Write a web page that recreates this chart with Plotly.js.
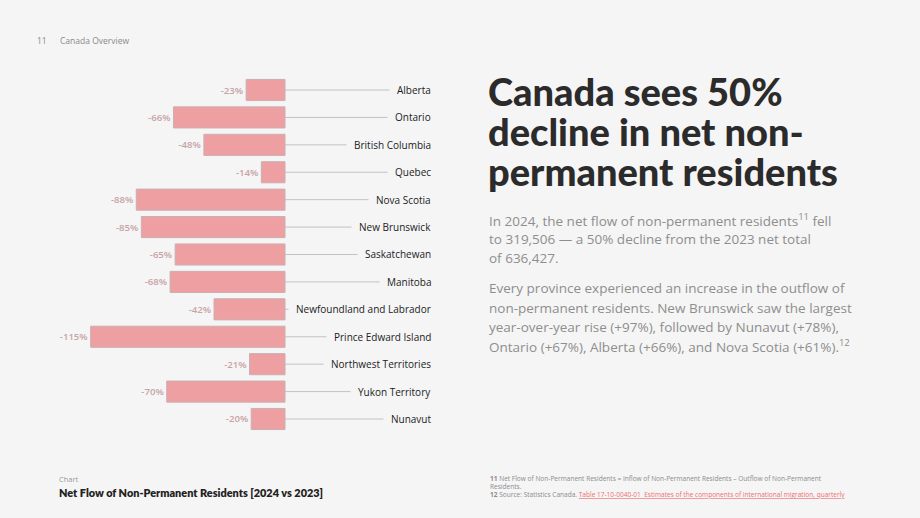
<!DOCTYPE html>
<html>
<head>
<meta charset="utf-8">
<script src="https://cdn.plot.ly/plotly-3.0.1.min.js"></script>
<style>
  html, body { margin: 0; padding: 0; background: #f5f5f5; }
  #chart { width: 920px; height: 518px; }
</style>
</head>
<body>
<div id="chart"></div>
<script>
// Net flow of non-permanent residents, change 2024 vs 2023 (%)
const provinces = [
  'Alberta', 'Ontario', 'British Columbia', 'Quebec', 'Nova Scotia',
  'New Brunswick', 'Saskatchewan', 'Manitoba', 'Newfoundland and Labrador',
  'Prince Edward Island', 'Northwest Territories', 'Yukon Territory', 'Nunavut'
];
const changePct = [-23, -66, -48, -14, -88, -85, -65, -68, -42, -115, -21, -70, -20];
const valueLabels = changePct.map(v => v + '%');

const W = 920, H = 518;
const px = x => x / W;
const py = y => 1 - y / H;

// horizontal scale: zero line at x=285, about 1.69 px per percentage point
const pxPerUnit = 1.69;
const zeroPx = 285, leftPx = 40, rightPx = 432;
const xMin = -(zeroPx - leftPx) / pxPerUnit;
const xMax = (rightPx - zeroPx) / pxPerUnit;

// leader lines from each bar end to its province name
const leadX = [], leadY = [];
provinces.forEach(p => { leadX.push(0, xMax, null); leadY.push(p, p, null); });

const bars = {
  type: 'bar',
  orientation: 'h',
  y: provinces,
  x: changePct,
  text: valueLabels,
  textposition: 'outside',
  cliponaxis: false,
  textfont: { family: 'Open Sans', size: 9.6, color: '#c7a3a7', weight: 600 },
  marker: { color: '#ee9fa2', line: { color: '#c9b0b2', width: 1 } },
  hoverinfo: 'skip'
};
const leaders = {
  type: 'scatter',
  mode: 'lines',
  x: leadX,
  y: leadY,
  line: { color: '#c2c2c2', width: 1 },
  hoverinfo: 'skip'
};

const ann = [];
function txt(text, x, y, size, color, opts) {
  ann.push(Object.assign({
    text: text, xref: 'paper', yref: 'paper', x: px(x), y: py(y),
    xanchor: 'left', yanchor: 'middle', showarrow: false,
    font: { family: 'Open Sans', size: size, color: color }
  }, opts || {}));
}

// province names, right-aligned, masking the leader line tips
provinces.forEach(p => {
  ann.push({
    text: p, xref: 'x', yref: 'y', x: xMax, y: p,
    xanchor: 'right', yanchor: 'middle', showarrow: false,
    xshift: 7, bgcolor: '#f5f5f5', borderpad: 7,
    font: { family: 'Open Sans', size: 10, color: '#222222' }
  });
});

// page header
txt('11', 35, 41, 8.5, '#8a8a8a');
txt('Canada Overview', 58, 41, 8.5, '#8a8a8a');

// headline
const headFont = { family: 'Lato', size: 38, color: '#2b2b2b', weight: 900 };
[['Canada sees 50%', 91], ['decline in net non-', 131], ['permanent residents', 171]].forEach(([t, y]) => {
  txt(t, 486, y, 38, '#2b2b2b', { font: headFont });
});

// body copy
const bodyLines = [
  ['In 2024, the net flow of non-permanent residents<sup>11</sup> fell', 220],
  ['to 319,506 — a 50% decline from the 2023 net total', 239],
  ['of 636,427.', 258],
  ['Every province experienced an increase in the outflow of', 288],
  ['non-permanent residents. New Brunswick saw the largest', 308],
  ['year-over-year rise (+97%), followed by Nunavut (+78%),', 327],
  ['Ontario (+67%), Alberta (+66%), and Nova Scotia (+61%).<sup>12</sup>', 346]
];
bodyLines.forEach(([t, y]) => txt(t, 487, y, 13.5, '#8e8e8e'));

// chart caption
txt('Chart', 57, 479, 7.5, '#9a9a9a');
txt('Net Flow of Non-Permanent Residents [2024 vs 2023]', 57, 492, 10.9, '#222222',
    { font: { family: 'Lato', size: 10.9, color: '#222222', weight: 800 } });

// footnotes
const fnSize = 6.55;
txt('<b>11</b> Net Flow of Non-Permanent Residents = Inflow of Non-Permanent Residents – Outflow of Non-Permanent', 488, 478, fnSize, '#8c8c8c');
txt('Residents.', 488, 486, fnSize, '#8c8c8c');
txt('<b>12</b> Source: Statistics Canada. <span style="color:#ef6f6f"><u>Table 17-10-0040-01  Estimates of the components of international migration, quarterly</u></span>', 488, 494, fnSize, '#8c8c8c');

const layout = {
  width: W, height: H,
  margin: { l: 0, r: 0, t: 0, b: 0 },
  paper_bgcolor: '#f5f5f5',
  plot_bgcolor: 'rgba(0,0,0,0)',
  showlegend: false,
  bargap: 0.23,
  xaxis: {
    domain: [px(leftPx), px(rightPx)],
    range: [xMin, xMax],
    visible: false, fixedrange: true
  },
  yaxis: {
    domain: [py(432.7), py(76.3)],
    type: 'category',
    categoryorder: 'array',
    categoryarray: provinces,
    range: [provinces.length - 0.5, -0.5],
    visible: false, fixedrange: true
  },
  annotations: ann
};

Plotly.newPlot('chart', [leaders, bars], layout, { displayModeBar: false, staticPlot: true });
</script>
</body>
</html>
